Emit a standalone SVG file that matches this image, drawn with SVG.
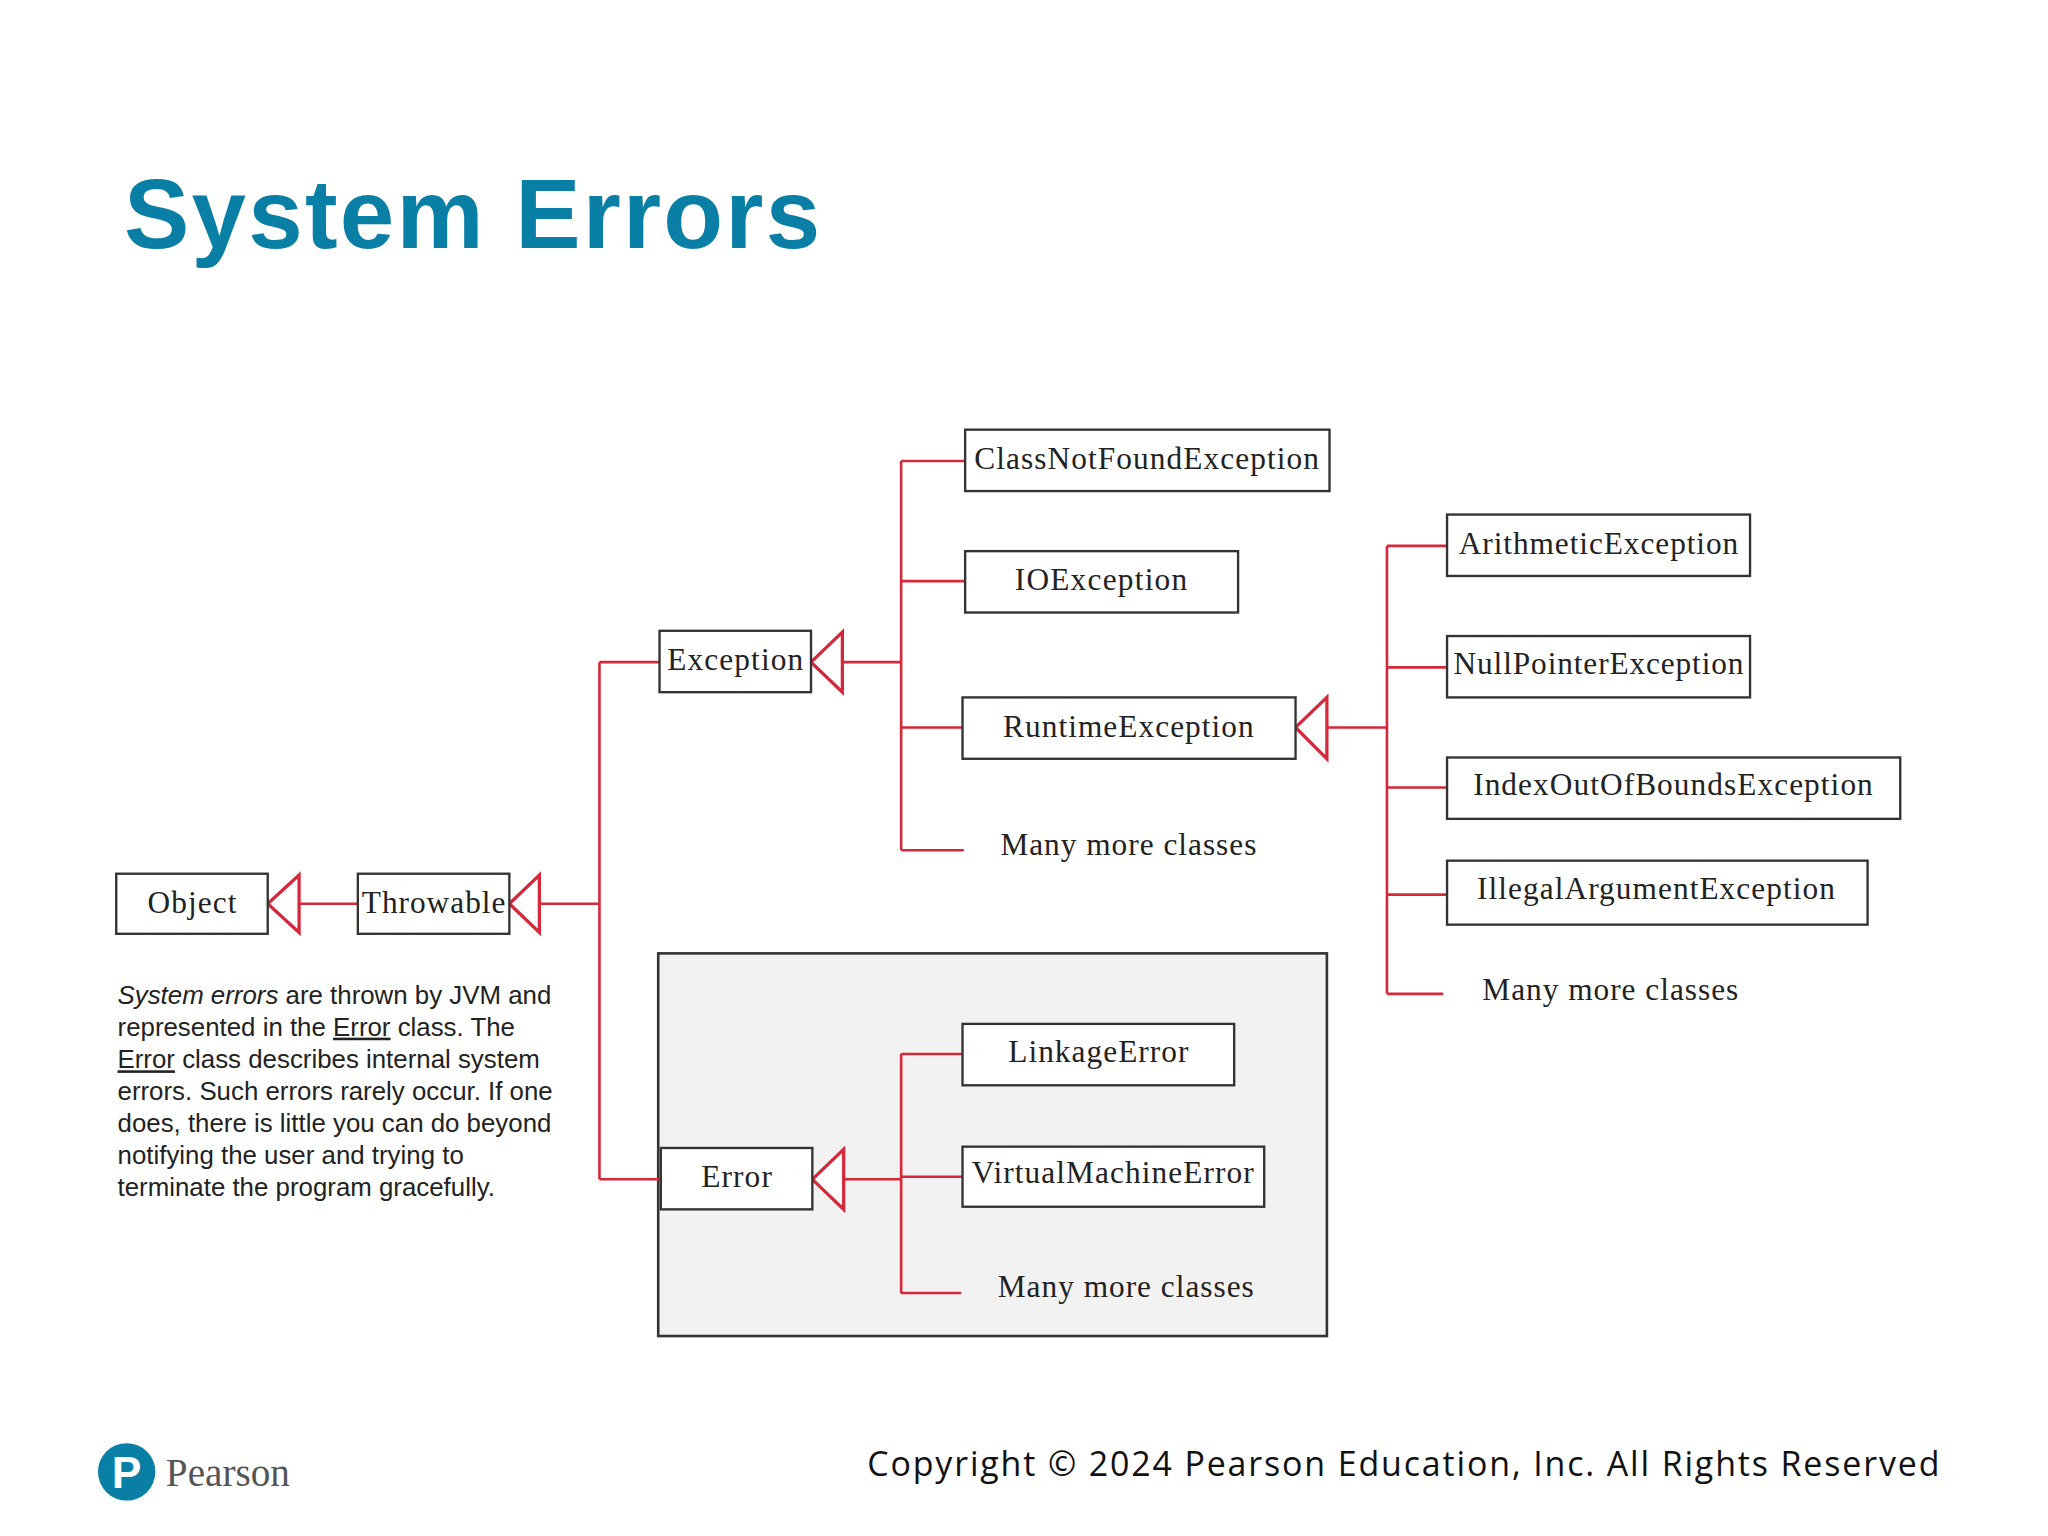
<svg xmlns="http://www.w3.org/2000/svg" width="2048" height="1536" viewBox="0 0 2048 1536">
<style>
.box{fill:#fff;stroke:#333;stroke-width:1.8}
.lbl{font-family:"Liberation Serif",serif;font-size:24px;fill:#222;text-anchor:middle}
.more{font-family:"Liberation Serif",serif;font-size:24px;fill:#222}
.ln{stroke:#d5283a;stroke-width:2;fill:none}
.tri{stroke:#d5283a;stroke-width:2.5;fill:#fff}
.para{font-family:"Liberation Sans",Arial,sans-serif;font-size:19.8px;fill:#222}
</style>
<rect width="2048" height="1536" fill="#fff"/>
<g transform="scale(1.306)">
<text x="95" y="190" font-family="Liberation Sans,Arial,sans-serif" font-weight="bold" font-size="75" fill="#0a7fa6" textLength="533">System Errors</text>
<rect x="504" y="730" width="512" height="293" fill="#f2f2f2" stroke="#333" stroke-width="2"/>
<g id="connectors">
<path class="ln" d="M229 692H274M413 692H459M459 507V903M459 507H505M459 903H506"/>
<path class="ln" d="M645 507H690M690 353V651M690 353H739M690 445H739M690 557H737M690 651H738"/>
<path class="ln" d="M1016 557H1062M1062 418V761M1062 418H1108M1062 511H1108M1062 603H1108M1062 685H1108M1062 761H1105"/>
<path class="ln" d="M646 903H690M690 807V990M690 807H737M690 901H737M690 990H736"/>
<polygon class="tri" points="205,692 229,670 229,714"/>
<polygon class="tri" points="390,692 413,670 413,714"/>
<polygon class="tri" points="621,507 645,484 645,530"/>
<polygon class="tri" points="992,557 1016,534 1016,581"/>
<polygon class="tri" points="622,903 646,880 646,926"/>
</g>
<g id="object"><rect class="box" x="89" y="669" width="116" height="46"/><text class="lbl" x="147" y="699" textLength="68">Object</text></g>
<g id="throwable"><rect class="box" x="274" y="669" width="116" height="46"/><text class="lbl" x="332" y="699" textLength="110">Throwable</text></g>
<g id="exception"><rect class="box" x="505" y="483" width="116" height="47"/><text class="lbl" x="563" y="513" textLength="104">Exception</text></g>
<g id="classnotfound"><rect class="box" x="739" y="329" width="279" height="47"/><text class="lbl" x="878" y="359" textLength="264">ClassNotFoundException</text></g>
<g id="ioexception"><rect class="box" x="739" y="422" width="209" height="47"/><text class="lbl" x="843" y="452" textLength="132">IOException</text></g>
<g id="runtime"><rect class="box" x="737" y="534" width="255" height="47"/><text class="lbl" x="864" y="564" textLength="192">RuntimeException</text></g>
<g id="more1"><text class="more" x="766" y="655" textLength="196">Many more classes</text></g>
<g id="arith"><rect class="box" x="1108" y="394" width="232" height="47"/><text class="lbl" x="1224" y="424" textLength="214">ArithmeticException</text></g>
<g id="nullptr"><rect class="box" x="1108" y="487" width="232" height="47"/><text class="lbl" x="1224" y="516" textLength="222">NullPointerException</text></g>
<g id="ioob"><rect class="box" x="1108" y="580" width="347" height="47"/><text class="lbl" x="1281" y="609" textLength="306">IndexOutOfBoundsException</text></g>
<g id="illegal"><rect class="box" x="1108" y="659" width="322" height="49"/><text class="lbl" x="1268" y="688" textLength="274">IllegalArgumentException</text></g>
<g id="more2"><text class="more" x="1135" y="766" textLength="196">Many more classes</text></g>
<g id="error"><rect class="box" x="506" y="879" width="116" height="47"/><text class="lbl" x="564" y="909" textLength="54">Error</text></g>
<g id="linkage"><rect class="box" x="737" y="784" width="208" height="47"/><text class="lbl" x="841" y="813" textLength="138">LinkageError</text></g>
<g id="vm"><rect class="box" x="737" y="878" width="231" height="46"/><text class="lbl" x="852" y="906" textLength="216">VirtualMachineError</text></g>
<g id="more3"><text class="more" x="764" y="993" textLength="196">Many more classes</text></g>
<g id="note" class="para">
<text x="90" y="769"><tspan font-style="italic">System errors</tspan> are thrown by JVM and</text>
<text x="90" y="793">represented in the <tspan text-decoration="underline">Error</tspan> class. The</text>
<text x="90" y="818"><tspan text-decoration="underline">Error</tspan> class describes internal system</text>
<text x="90" y="842">errors. Such errors rarely occur. If one</text>
<text x="90" y="867">does, there is little you can do beyond</text>
<text x="90" y="891">notifying the user and trying to</text>
<text x="90" y="916">terminate the program gracefully.</text>
</g>
<circle cx="97" cy="1127" r="22" fill="#0a7fa6"/>
<text x="97" y="1139" font-family="Liberation Sans,Arial,sans-serif" font-weight="bold" font-size="34" fill="#fff" text-anchor="middle">P</text>
<text x="127" y="1138" font-family="Liberation Serif,serif" font-size="30" fill="#555">Pearson</text>
<text x="1485" y="1130" font-family="Open Sans,DejaVu Sans,sans-serif" font-size="26" fill="#111" text-anchor="end" textLength="821">Copyright © 2024 Pearson Education, Inc. All Rights Reserved</text>
</g>
</svg>
